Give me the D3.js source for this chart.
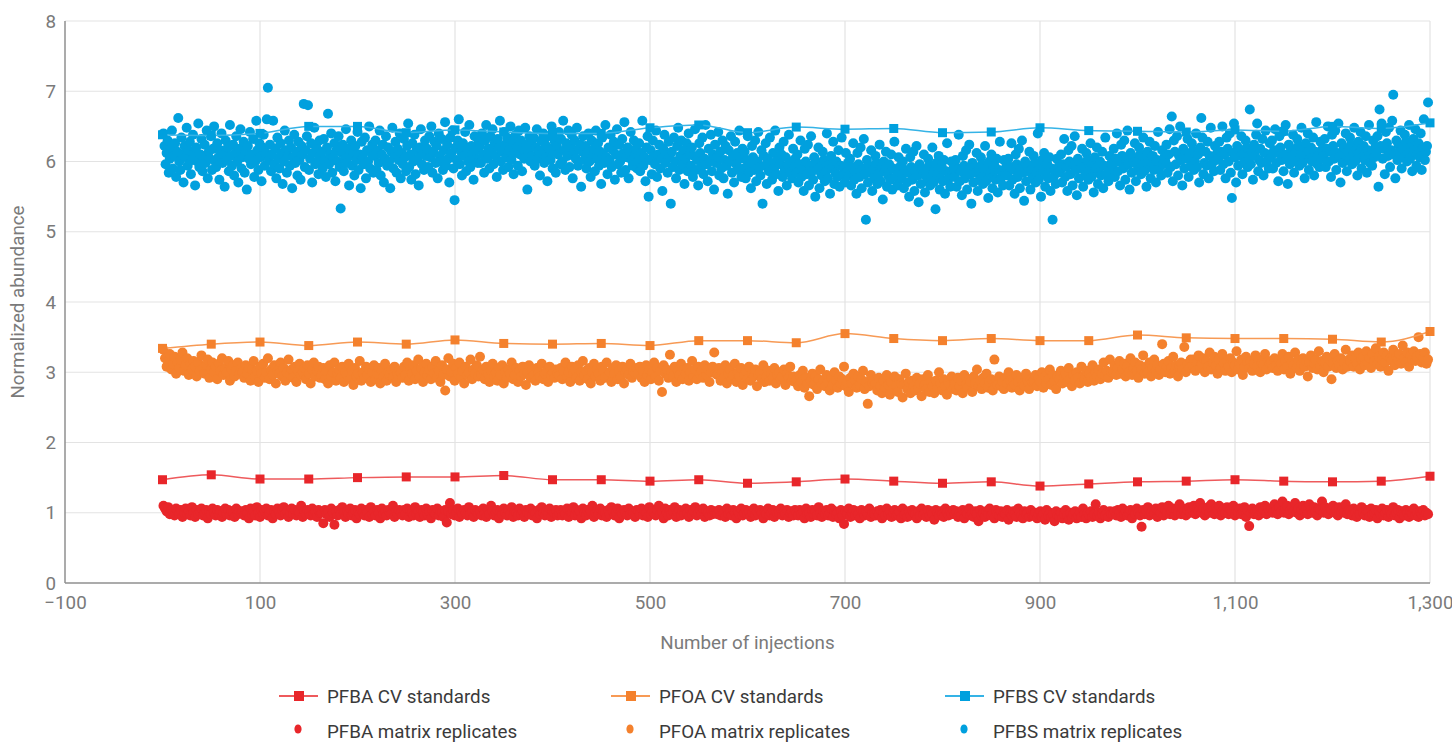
<!DOCTYPE html>
<html>
<head>
<meta charset="utf-8">
<script src="https://cdn.jsdelivr.net/npm/d3@7"></script>
<style>
  html, body { margin: 0; padding: 0; background: #fff; }
  svg { display: block; font-family: Roboto, "Open Sans", sans-serif; }
</style>
</head>
<body>
<svg id="chart" width="1452" height="742"></svg>
<script>
// ---------- DATA ----------
const xTicks = [-100, 100, 300, 500, 700, 900, 1100, 1300];
const yTicks = [0, 1, 2, 3, 4, 5, 6, 7, 8];

const cvInjections = [0,50,100,150,200,250,300,350,400,450,500,550,600,650,700,750,800,850,900,950,1000,1050,1100,1150,1200,1250,1300];
const pfbaCV = [1.47,1.54,1.48,1.48,1.50,1.51,1.51,1.53,1.47,1.47,1.45,1.47,1.42,1.44,1.48,1.45,1.42,1.44,1.38,1.41,1.44,1.45,1.47,1.45,1.44,1.45,1.52];
const pfoaCV = [3.34,3.40,3.43,3.38,3.43,3.40,3.46,3.41,3.40,3.41,3.38,3.45,3.45,3.42,3.55,3.48,3.45,3.48,3.45,3.45,3.53,3.49,3.48,3.48,3.47,3.43,3.58];
const pfbsCV = [6.38,6.37,6.40,6.50,6.50,6.41,6.45,6.42,6.40,6.40,6.48,6.52,6.41,6.49,6.46,6.47,6.41,6.42,6.48,6.44,6.43,6.42,6.45,6.43,6.50,6.47,6.55];

// matrix replicates: consecutive injections between first and last
const matrixFirstInjection = 1;
const matrixLastInjection = 1298;

const pfbsMatrix = [
6.40,6.22,5.96,6.12,6.30,5.84,6.04,6.18,6.44,5.90,6.08,6.26,5.78,6.14,6.62,6.00,5.88,6.34,6.10,5.70,6.22,6.06,6.48,5.94,6.16,6.28,5.82,6.02,6.38,6.12,5.66,6.20,6.00,6.54,5.92,6.10,6.32,5.86,6.06,6.24,5.98,6.44,5.76,6.14,6.04,6.36,5.88,6.18,6.50,6.00,
5.92,6.26,6.06,5.74,6.16,6.40,5.98,6.10,5.64,6.30,6.02,6.20,5.86,6.52,6.08,5.94,6.24,5.80,6.12,6.36,6.00,5.70,6.18,6.46,5.90,6.06,6.28,5.84,6.14,5.60,6.22,6.04,6.42,5.96,6.10,6.32,5.78,6.00,6.58,6.16,5.88,6.26,6.06,5.72,6.20,6.38,5.94,6.12,6.60,7.05,
6.02,6.24,5.86,6.10,6.58,5.96,6.18,5.76,6.34,6.04,5.90,6.26,6.12,5.68,6.00,6.44,6.16,5.84,6.08,6.30,5.94,6.20,5.62,6.06,6.38,5.98,6.14,5.80,6.28,6.02,5.74,6.22,6.10,6.82,5.92,6.16,6.36,6.80,5.88,6.04,6.26,5.70,6.12,6.48,5.96,6.20,6.00,5.82,6.30,6.08,
6.14,5.90,6.32,6.02,5.78,6.20,6.68,5.96,6.10,6.40,5.84,6.06,6.26,5.72,6.16,6.00,6.36,5.92,5.33,6.12,6.24,5.86,6.04,6.46,5.98,6.18,5.66,6.08,6.30,5.94,6.14,5.80,6.22,6.02,6.42,5.88,6.10,5.62,6.28,6.06,5.96,6.34,5.76,6.16,6.00,6.50,5.90,6.12,6.24,5.84,
6.08,6.30,5.88,6.16,5.98,6.44,5.80,6.10,6.24,5.70,6.04,6.36,5.94,6.20,6.00,5.62,6.14,6.48,5.90,6.06,6.28,5.84,6.18,6.02,6.40,5.76,6.12,5.96,6.32,6.06,5.86,6.22,6.54,5.92,6.10,5.74,6.26,6.00,6.38,5.82,6.16,6.04,5.66,6.20,6.46,5.96,6.12,5.88,6.30,6.08,
6.18,5.92,6.36,6.06,6.50,5.84,6.14,6.28,5.98,6.22,5.76,6.40,6.08,6.00,6.32,5.88,6.16,6.56,5.94,6.24,6.04,5.70,6.34,6.12,6.44,5.90,5.45,6.20,6.02,6.30,6.60,5.96,6.14,5.80,6.26,6.08,6.42,5.86,6.18,6.00,6.52,5.92,6.22,6.10,5.74,6.36,6.04,6.16,5.98,6.28,
6.22,5.98,6.40,6.10,5.84,6.30,6.52,6.04,6.18,5.90,6.36,6.14,6.46,5.96,6.26,6.08,5.78,6.32,6.20,6.58,6.00,6.14,5.88,6.42,6.24,6.06,6.34,5.92,6.16,6.50,6.02,6.28,5.82,6.12,6.38,6.20,5.94,6.44,6.10,6.30,5.86,6.18,6.04,6.48,6.24,5.60,6.14,6.36,6.00,6.26,
6.08,6.34,5.94,6.20,6.46,6.04,6.16,5.80,6.30,6.12,6.40,5.98,6.24,6.06,5.72,6.36,6.18,6.02,6.50,5.90,6.14,6.28,5.84,6.22,6.10,6.42,5.96,6.32,6.00,6.58,6.16,5.88,6.26,6.08,6.44,5.92,6.20,6.38,5.76,6.12,6.30,6.04,6.48,5.94,6.18,6.24,5.64,6.14,6.36,6.02,
6.22,5.90,6.12,6.40,6.00,5.78,6.30,6.08,6.18,5.86,6.44,6.04,6.26,5.94,6.14,5.68,6.34,6.10,5.98,6.52,6.06,5.82,6.20,6.02,6.38,5.92,6.16,6.28,5.74,6.10,6.46,5.96,6.24,6.00,5.84,6.32,6.12,6.56,5.88,6.06,6.20,5.76,6.14,6.42,6.02,5.94,6.30,6.08,6.18,5.90,
6.00,6.26,5.86,6.12,6.58,5.94,6.06,5.72,6.20,6.36,5.50,6.02,6.16,5.82,6.30,6.08,5.96,6.44,5.78,6.10,6.24,5.90,6.04,5.58,6.18,6.38,5.98,6.12,5.84,6.28,6.06,5.40,6.14,5.92,6.34,6.00,5.76,6.22,6.48,5.88,6.08,6.30,5.96,6.16,5.68,6.04,6.26,5.86,6.40,6.10,
5.94,6.20,5.78,6.08,6.46,5.88,6.02,5.66,6.26,6.12,5.92,6.34,5.82,6.04,6.52,5.96,5.72,6.18,6.00,6.38,5.86,6.10,5.60,6.24,5.98,6.06,6.42,5.80,6.14,5.90,6.30,5.76,6.02,6.22,5.94,5.54,6.16,6.00,6.36,5.84,6.08,5.70,6.28,5.96,6.12,5.88,6.44,6.04,5.78,6.18,
5.90,6.14,5.76,6.02,6.36,5.84,5.96,5.62,6.22,6.06,5.88,6.30,5.72,6.00,6.42,5.92,5.80,6.16,5.40,6.08,5.94,6.26,5.68,6.04,5.86,6.34,5.98,5.74,6.12,5.90,6.44,5.82,6.02,5.58,6.20,5.96,6.10,5.78,6.28,5.88,6.06,5.66,5.94,6.38,5.84,6.00,5.76,6.18,5.92,6.04,
5.84,6.10,5.70,5.96,6.30,5.78,5.90,5.58,6.18,6.00,5.82,6.24,5.66,5.94,6.36,5.86,5.74,6.06,5.50,5.98,5.88,6.20,5.62,5.92,5.80,6.14,6.02,5.72,5.86,6.40,5.76,5.96,5.54,6.08,5.90,6.28,5.68,5.84,6.00,5.78,6.16,5.64,5.94,6.34,5.82,5.92,5.70,6.12,5.86,5.98,
5.80,6.04,5.66,5.92,6.26,5.74,5.86,5.54,6.12,5.96,5.78,6.20,5.62,5.90,6.32,5.82,5.17,6.02,5.70,5.94,5.84,6.16,5.58,5.88,5.76,6.08,5.98,5.68,5.82,6.24,5.72,5.92,5.46,6.00,5.86,6.14,5.64,5.80,5.96,5.74,6.10,5.60,5.90,6.28,5.78,5.88,5.66,6.06,5.84,5.94,
5.76,6.00,5.62,5.88,6.18,5.70,5.84,5.50,6.06,5.92,5.74,6.14,5.58,5.86,6.22,5.80,5.42,5.96,5.68,5.90,5.82,6.10,5.56,5.84,5.72,6.04,5.94,5.66,5.78,6.20,5.70,5.88,5.32,5.98,5.82,6.08,5.60,5.76,5.92,5.72,6.02,5.54,5.86,6.26,5.74,5.84,5.64,6.00,5.80,5.90,
5.78,6.02,5.64,5.90,6.38,5.72,5.86,5.52,6.08,5.94,5.76,6.16,5.60,5.88,6.24,5.82,5.40,5.98,5.70,5.92,5.84,6.12,5.58,5.86,5.74,6.06,5.96,5.68,5.80,6.22,5.72,5.90,5.48,6.00,5.84,6.10,5.62,5.78,5.94,5.74,6.04,5.56,5.88,6.28,5.76,5.86,5.66,6.02,5.82,5.92,
5.80,6.04,5.66,5.92,6.26,5.74,5.88,5.54,6.10,5.96,5.78,6.18,5.62,5.90,6.30,5.84,5.44,6.00,5.72,5.94,5.86,6.14,5.60,5.88,5.76,6.08,5.98,5.70,5.82,6.40,5.74,5.92,5.50,6.02,5.86,6.12,5.64,5.80,5.96,5.76,6.06,5.58,5.90,5.17,5.78,5.88,5.68,6.04,5.84,5.94,
5.86,6.10,5.70,5.96,6.32,5.78,5.92,5.58,6.16,6.00,5.82,6.22,5.66,5.94,6.36,5.88,5.52,6.04,5.76,5.98,5.90,6.18,5.64,5.92,5.80,6.12,6.02,5.74,5.86,6.26,5.78,5.96,5.56,6.06,5.90,6.20,5.68,5.84,6.00,5.80,6.14,5.62,5.94,6.34,5.82,5.92,5.72,6.08,5.88,5.98,
5.94,6.18,5.78,6.04,6.40,5.86,6.00,5.66,6.24,6.08,5.90,6.30,5.74,6.02,6.44,5.96,5.60,6.12,5.84,6.06,5.98,6.26,5.72,6.00,5.88,6.20,6.10,5.82,5.94,6.34,5.86,6.04,5.64,6.14,5.98,6.28,5.76,5.92,6.08,5.88,6.22,5.70,6.02,6.42,5.90,6.00,5.80,6.16,5.96,6.06,
6.00,6.24,5.84,6.10,6.46,5.92,6.64,5.72,6.30,6.14,5.96,6.36,5.80,6.08,6.50,6.02,5.66,6.18,5.90,6.12,6.04,6.32,5.78,6.06,5.94,6.26,6.16,5.88,6.00,6.40,5.92,6.10,5.70,6.20,6.62,6.34,5.82,5.98,6.14,5.94,6.28,5.76,6.08,6.48,5.96,6.06,5.86,6.22,6.02,6.12,
6.04,6.28,5.88,6.14,6.50,5.96,6.10,5.76,6.34,6.18,6.00,6.40,5.84,5.48,6.12,6.54,6.06,5.70,6.22,5.94,6.16,6.08,6.36,5.82,6.10,5.98,6.30,6.20,5.92,6.04,6.74,5.96,6.14,5.74,6.24,6.08,6.38,6.54,5.86,6.02,6.18,5.98,6.32,5.80,6.12,6.44,6.00,6.10,5.90,6.26,
6.06,6.30,5.90,6.16,6.46,5.98,6.12,5.72,6.36,6.20,6.02,6.42,5.86,6.10,6.52,6.04,5.68,6.24,5.96,6.18,6.08,6.38,5.84,6.12,6.00,6.32,6.22,5.94,6.06,6.48,5.98,6.16,5.76,6.26,6.10,6.40,5.88,6.04,6.20,6.00,6.34,5.80,6.14,6.56,5.96,6.08,5.92,6.28,6.04,6.18,
6.08,6.32,5.92,6.18,6.50,6.00,6.14,5.78,6.38,6.22,6.04,6.44,5.88,6.12,6.54,6.06,5.70,6.26,5.98,6.20,6.10,6.40,5.86,6.14,6.02,6.34,6.24,5.96,6.08,6.48,6.00,6.18,5.80,6.28,6.12,6.42,5.90,6.06,6.22,6.02,6.36,5.84,6.16,6.52,5.98,6.10,5.94,6.30,6.06,6.20,
6.12,6.36,5.64,6.74,6.22,6.54,6.04,6.18,5.82,6.42,6.26,6.08,6.48,5.92,6.16,6.58,6.95,6.10,5.76,6.30,6.02,6.24,6.14,6.44,5.90,6.18,6.06,6.38,6.28,6.00,6.12,6.52,6.04,6.22,5.86,6.32,6.16,6.46,5.94,6.10,6.26,6.06,6.40,5.88,6.20,6.60,6.02,6.14,6.22,6.84
];

const pfoaMatrix = [
3.32,3.20,3.08,3.16,3.26,3.04,3.12,3.22,2.98,3.14,3.06,3.18,3.28,3.02,3.10,3.20,2.96,3.12,3.04,3.16,3.08,2.94,3.14,3.02,3.24,3.06,2.98,3.10,3.18,2.92,3.04,3.14,3.00,3.08,2.90,3.12,3.02,3.20,2.96,3.06,3.00,3.16,2.88,3.04,3.10,2.94,3.02,3.14,2.98,3.06,
3.00,2.92,3.10,2.98,3.06,2.88,3.04,3.16,2.94,3.02,2.86,3.08,2.98,3.12,2.92,3.00,3.20,2.90,3.04,2.96,3.10,2.84,3.02,2.98,3.14,2.94,3.06,2.88,3.00,3.18,2.96,3.04,2.92,3.08,2.86,3.02,3.12,2.96,3.00,3.06,2.90,3.10,2.98,2.84,3.04,3.14,2.94,3.02,3.08,2.92,
2.96,3.06,2.90,3.02,2.84,3.10,2.94,3.00,3.14,2.88,2.98,3.04,2.92,3.08,2.86,3.00,2.96,3.12,2.90,3.02,2.82,3.06,2.94,2.98,3.16,2.88,3.00,2.92,3.08,2.96,3.04,2.86,3.00,3.10,2.90,2.98,3.06,2.84,3.02,2.94,3.12,2.88,3.00,2.96,3.04,2.92,3.08,2.86,2.98,3.02,
3.00,2.92,3.08,2.96,3.14,2.88,3.04,2.98,3.10,2.90,3.02,3.18,2.94,3.06,2.86,3.00,3.12,2.96,3.04,2.90,3.08,2.98,3.16,2.92,3.02,2.86,3.10,2.96,2.74,3.04,3.20,2.94,3.00,3.12,2.88,3.06,2.98,3.14,2.92,3.02,2.84,3.08,2.96,3.00,3.18,2.90,3.04,2.98,3.10,2.94,
3.22,2.96,3.04,2.90,3.08,2.98,2.86,3.02,3.12,2.94,3.00,2.88,3.06,2.96,3.10,2.84,3.00,2.92,3.04,2.98,3.14,2.90,2.96,3.06,2.86,3.02,2.94,3.08,2.98,2.82,3.00,3.10,2.92,3.04,2.96,2.88,3.06,3.00,2.94,3.12,2.90,2.98,3.02,2.86,3.08,2.96,3.00,2.92,3.04,2.98,
2.96,3.06,2.90,3.02,3.14,2.94,3.00,2.86,3.08,2.98,3.04,2.92,3.10,2.88,3.00,3.16,2.96,3.02,2.90,3.06,2.84,3.00,3.12,2.94,3.04,2.98,2.88,3.08,3.02,2.92,3.14,2.96,3.00,2.86,3.06,2.98,3.10,2.90,3.02,2.94,3.08,2.84,3.00,3.04,2.96,3.12,2.92,3.02,2.98,3.06,
2.98,3.08,2.92,3.02,2.86,3.10,2.96,3.04,2.90,3.00,3.14,2.94,3.06,2.88,3.02,2.72,3.10,2.98,3.04,2.92,3.25,3.00,2.94,3.08,2.86,3.02,2.96,3.12,2.90,3.04,2.98,3.06,2.88,3.00,3.16,2.94,3.04,2.90,3.08,2.98,3.02,2.92,3.10,2.96,3.04,2.86,3.00,3.08,3.28,2.98,
2.96,3.06,2.88,3.00,2.92,3.10,2.84,2.98,3.04,2.90,2.96,3.12,2.86,3.00,2.94,3.06,2.82,2.96,3.02,2.90,3.08,2.88,2.98,2.94,3.04,2.80,2.96,3.00,2.90,3.10,2.86,2.94,3.02,2.88,2.98,2.92,3.06,2.84,2.96,3.00,2.90,2.94,3.04,2.82,2.98,2.92,3.08,2.88,2.94,2.86,
2.90,2.80,2.96,2.86,3.02,2.78,2.92,2.84,2.66,2.88,2.98,2.82,2.94,2.76,2.90,3.04,2.84,2.88,2.80,2.96,2.86,2.74,2.92,2.82,3.00,2.88,2.78,2.94,2.84,2.90,3.08,2.80,2.86,2.72,2.92,2.84,2.98,2.88,2.78,2.94,2.82,2.90,3.02,2.76,2.86,2.55,2.80,2.96,2.84,2.88,
2.84,2.74,2.92,2.80,2.70,2.88,2.78,2.96,2.82,2.68,2.86,2.76,2.94,2.80,2.72,2.90,2.84,2.64,2.82,2.98,2.76,2.86,2.70,2.88,2.80,2.74,2.92,2.78,2.84,2.66,2.90,2.82,2.76,2.96,2.72,2.86,2.80,2.70,2.88,2.78,3.00,2.84,2.74,2.90,2.80,2.68,2.86,2.82,2.94,2.76,
2.84,2.74,2.92,2.80,2.88,2.70,2.96,2.82,2.78,2.90,2.86,2.72,2.94,2.84,3.04,2.80,2.88,2.76,2.92,2.84,2.98,2.78,2.86,2.90,2.74,3.18,2.88,2.82,2.94,2.80,2.86,2.76,2.92,2.84,3.00,2.88,2.78,2.90,2.82,2.96,2.86,2.74,2.92,2.84,2.80,2.98,2.88,2.76,2.90,2.86,
2.88,2.96,2.80,2.92,2.86,3.00,2.78,2.94,2.84,2.90,3.04,2.82,2.96,2.88,2.76,2.94,2.90,3.02,2.84,2.92,2.98,2.86,3.06,2.90,2.80,2.96,2.88,3.00,2.92,2.84,3.08,2.94,2.90,3.02,2.86,2.98,2.92,3.10,2.88,3.00,2.94,3.04,2.90,2.98,3.14,2.96,3.02,2.92,3.18,3.00,
3.02,3.10,2.96,3.06,3.16,2.98,3.04,3.12,2.94,3.08,3.00,3.20,2.96,3.06,3.14,3.02,2.92,3.10,3.04,3.24,2.98,3.08,3.00,3.14,2.94,3.06,3.18,3.02,3.10,2.96,3.04,3.40,3.12,3.00,3.08,3.16,2.98,3.06,3.22,3.02,3.10,2.94,3.08,3.14,3.04,3.36,3.00,3.12,3.06,3.18,
3.10,3.18,3.02,3.14,3.24,3.06,3.12,3.20,3.00,3.16,3.08,3.28,3.04,3.14,3.22,3.10,2.98,3.18,3.06,3.26,3.12,3.02,3.16,3.08,3.20,3.00,3.14,3.10,3.30,3.04,3.12,3.18,2.96,3.08,3.22,3.14,3.06,3.16,3.02,3.12,3.24,3.08,3.18,3.00,3.14,3.10,3.26,3.04,3.16,3.12,
3.14,3.06,3.20,3.10,3.02,3.18,3.12,3.26,3.04,3.16,3.08,3.22,2.98,3.14,3.10,3.28,3.06,3.18,3.02,3.12,3.20,3.08,3.16,2.94,3.14,3.24,3.06,3.12,3.18,3.04,3.30,3.10,3.16,3.00,3.14,3.22,3.08,3.18,2.90,3.12,3.26,3.06,3.16,3.10,3.20,3.04,3.14,3.32,3.08,3.18,
3.16,3.24,3.08,3.20,3.12,3.28,3.04,3.18,3.22,3.10,3.30,3.14,3.20,3.06,3.26,3.16,3.34,3.12,3.22,3.08,3.18,3.28,3.14,3.24,3.02,3.20,3.16,3.32,3.10,3.22,3.18,3.26,3.12,3.38,3.20,3.14,3.28,3.08,3.24,3.18,3.30,3.16,3.22,3.50,3.26,3.14,3.20,3.28,3.12,3.18
];

const pfbaMatrix = [
1.10,1.06,1.02,1.08,0.98,1.04,1.00,0.96,1.06,1.02,0.98,1.04,0.94,1.00,1.06,0.98,1.02,0.96,1.08,1.00,0.94,1.04,0.98,1.02,1.06,0.96,1.00,1.04,0.92,1.02,0.98,1.06,1.00,0.96,1.04,0.98,1.02,0.94,1.00,1.06,0.98,1.04,0.96,1.02,1.00,0.94,1.06,0.98,1.02,1.00,
1.02,0.96,1.04,1.00,0.92,1.06,0.98,1.02,0.96,1.08,1.00,0.94,1.04,0.98,1.02,1.06,0.96,1.00,1.04,0.92,1.02,0.98,1.06,1.00,0.96,1.04,1.08,0.98,1.02,0.94,1.00,1.06,0.98,1.04,0.96,1.02,1.00,1.10,0.94,1.02,0.98,1.04,1.00,0.96,1.06,0.98,1.02,0.94,1.04,1.00,
1.00,0.85,1.04,0.98,1.02,0.94,1.06,1.00,0.83,1.02,0.96,1.04,0.98,1.08,1.00,0.94,1.02,0.98,1.06,0.96,1.00,1.04,0.92,1.02,0.98,1.06,1.00,0.96,1.04,1.00,0.94,1.08,0.98,1.02,0.96,1.04,1.00,0.92,1.06,0.98,1.02,0.96,1.04,1.00,0.98,1.10,0.94,1.02,0.98,1.04,
1.00,0.96,1.04,0.98,1.06,0.94,1.02,1.00,0.96,1.08,0.98,1.02,0.94,1.04,1.00,0.96,1.06,0.98,1.02,0.92,1.04,1.00,0.98,1.06,0.96,1.02,1.00,0.94,1.04,0.86,1.02,1.14,0.98,1.04,0.96,1.00,1.06,0.94,1.02,0.98,1.04,1.00,0.96,1.08,0.98,1.02,0.94,1.04,1.00,0.98,
1.02,0.96,1.06,1.00,0.94,1.04,0.98,1.10,1.02,0.96,1.00,1.04,0.92,1.02,0.98,1.06,1.00,0.96,1.04,0.98,1.08,0.94,1.02,1.00,0.96,1.06,0.98,1.02,0.94,1.04,1.00,0.98,1.06,0.96,1.02,1.00,0.92,1.04,0.98,1.08,1.00,0.96,1.02,0.98,1.06,0.94,1.02,1.00,1.04,0.96,
1.00,1.04,0.96,1.02,0.98,1.06,0.94,1.02,1.00,1.08,0.96,1.04,0.98,1.02,0.92,1.06,1.00,0.96,1.04,0.98,1.02,1.10,0.94,1.00,1.04,0.98,1.06,0.96,1.02,1.00,0.94,1.04,0.98,1.08,1.02,0.96,1.00,1.06,0.92,1.02,0.98,1.04,1.00,0.96,1.06,0.98,1.02,1.00,0.94,1.04,
1.02,0.98,1.06,0.96,1.04,1.00,0.94,1.08,0.98,1.02,1.00,0.96,1.04,1.10,0.98,1.02,0.92,1.06,1.00,0.96,1.04,0.98,1.02,1.08,0.94,1.00,1.04,0.96,1.02,0.98,1.06,1.00,0.94,1.04,0.98,1.02,1.08,0.96,1.00,1.04,0.98,1.06,0.94,1.02,1.00,0.96,1.04,0.98,1.02,1.00,
0.98,1.04,0.96,1.02,1.00,0.94,1.06,0.98,1.02,0.96,1.04,1.00,0.92,1.02,0.98,1.06,0.96,1.00,1.04,0.98,1.02,0.94,1.00,1.06,0.96,1.02,0.98,1.04,1.00,0.92,1.02,0.98,1.06,0.96,1.00,1.04,0.94,1.02,0.98,1.00,1.06,0.96,1.02,0.98,1.04,0.94,1.00,1.02,0.96,1.04,
1.00,0.96,1.04,0.98,1.02,0.92,1.06,0.98,1.00,0.94,1.04,0.98,1.02,0.96,1.08,1.00,0.94,1.02,0.98,1.04,0.96,1.00,1.06,0.94,1.02,0.98,1.00,0.92,1.04,0.96,0.84,1.02,0.98,1.06,0.94,1.00,1.04,0.96,1.02,0.98,0.92,1.04,1.00,0.96,1.02,0.98,1.06,0.94,1.00,0.98,
0.96,1.02,0.98,1.04,0.92,1.00,0.96,1.06,0.98,1.02,0.94,1.00,1.04,0.96,0.98,1.02,0.92,1.06,0.98,1.00,0.94,1.02,0.96,1.04,1.00,0.98,0.92,1.02,0.96,1.06,0.98,1.00,0.94,1.04,0.96,1.02,0.98,0.90,1.04,1.00,0.96,1.02,0.98,0.94,1.06,1.00,0.96,1.02,0.98,1.04,
0.98,1.02,0.94,1.00,0.96,1.04,0.92,1.02,0.98,1.06,0.96,1.00,0.94,1.02,0.98,0.88,1.04,0.96,1.00,0.94,1.02,0.98,1.06,0.96,1.00,0.92,1.04,0.98,0.96,1.02,0.94,1.00,0.98,1.04,0.90,1.00,0.96,1.02,0.98,0.94,1.06,1.00,0.96,0.92,1.02,0.98,1.00,0.94,1.04,0.96,
0.96,1.00,0.92,0.98,1.02,0.94,0.98,0.90,1.04,0.96,1.00,0.94,0.98,0.88,1.02,0.96,0.94,1.00,0.92,0.98,1.04,0.96,0.90,1.00,0.94,0.98,1.02,0.92,0.96,1.00,0.94,1.06,0.98,0.92,1.00,0.96,1.02,0.94,0.98,1.12,0.96,1.00,0.92,0.98,1.04,0.96,1.00,0.94,1.02,0.98,
0.98,1.02,0.96,1.04,1.00,0.94,1.06,0.98,1.02,0.96,1.00,1.04,0.92,1.02,0.98,1.06,1.00,0.96,0.80,1.04,0.98,1.02,1.08,0.96,1.00,1.04,0.98,1.06,0.94,1.02,1.00,1.08,0.96,1.04,1.00,1.10,0.98,1.02,1.06,0.96,1.04,1.00,1.12,0.98,1.06,1.02,0.96,1.04,1.08,1.00,
1.04,1.10,0.98,1.06,1.02,1.14,1.00,1.06,0.96,1.04,1.08,1.00,1.12,1.02,0.98,1.06,1.04,1.10,0.96,1.02,1.06,1.00,1.08,0.98,1.04,1.02,1.10,0.96,1.04,1.00,1.06,0.98,1.02,1.08,0.94,1.04,0.81,1.00,1.06,0.98,1.02,1.04,0.96,1.08,1.00,1.04,1.10,0.98,1.06,1.02,
1.06,1.00,1.12,1.04,0.98,1.08,1.02,1.16,1.00,1.06,1.10,0.98,1.04,1.08,1.02,1.14,1.00,1.06,0.96,1.04,1.10,1.02,1.06,0.98,1.12,1.04,1.00,1.08,1.02,0.96,1.06,1.04,1.16,1.00,1.08,1.02,0.98,1.06,1.04,1.10,1.00,1.04,0.96,1.08,1.02,1.06,1.00,1.12,0.98,1.04,
1.02,0.96,1.06,1.00,0.94,1.04,0.98,1.08,1.00,0.96,1.04,1.02,0.94,1.06,0.98,1.00,1.04,0.92,1.02,0.98,1.06,0.96,1.00,1.04,0.94,1.02,0.98,1.08,0.96,1.00,1.04,0.92,1.02,0.98,0.96,1.04,1.00,0.94,1.02,0.98,1.06,0.96,1.00,0.94,1.02,0.98,1.04,0.96,1.00,0.98
];

const seriesNames = ["PFBA", "PFOA", "PFBS"];
const seriesColors = ["#e8262a", "#f4812d", "#00a0de"];
const lineColors = ["#ee5a5c", "#f79a55", "#35b3e6"];

// ---------- LAYOUT ----------
const plot = { left: 65, right: 1430, top: 21, bottom: 583 };
const fontSize = "18.8px";

const svg = d3.select("#chart");
const x = d3.scaleLinear().domain([-100, 1300]).range([plot.left, plot.right]);
const y = d3.scaleLinear().domain([0, 8]).range([plot.bottom, plot.top]);

const gridColor = "#e3e3e3";
const axisColor = "#8f8f8f";
const tickColor = "#7a7a7a";

// gridlines
svg.append("g").selectAll("line").data(yTicks.filter(d => d > 0)).join("line")
  .attr("x1", plot.left).attr("x2", plot.right)
  .attr("y1", d => y(d)).attr("y2", d => y(d))
  .attr("stroke", gridColor).attr("stroke-width", 1.2);
svg.append("g").selectAll("line").data(xTicks.filter(d => d > -100)).join("line")
  .attr("x1", d => x(d)).attr("x2", d => x(d))
  .attr("y1", plot.top).attr("y2", plot.bottom)
  .attr("stroke", gridColor).attr("stroke-width", 1.2);

// axes
const xAxis = d3.axisBottom(x).tickValues(xTicks).tickFormat(d3.format(",")).tickSize(0).tickPadding(13);
const yAxis = d3.axisLeft(y).tickValues(yTicks).tickFormat(d3.format("d")).tickSize(0).tickPadding(9);

const gx = svg.append("g").attr("transform", `translate(0,${plot.bottom})`).call(xAxis);
const gy = svg.append("g").attr("transform", `translate(${plot.left},0)`).call(yAxis);
[gx, gy].forEach(g => {
  g.select(".domain").attr("stroke", axisColor).attr("stroke-width", 1.5);
  g.selectAll("text").attr("fill", tickColor).style("font-size", fontSize).style("font-family", "Roboto, sans-serif");
});
gy.select(".domain").attr("d", `M0,${plot.top}V${plot.bottom}`);
gx.select(".domain").attr("d", `M${plot.left},0H${plot.right}`);

// axis titles
svg.append("text").attr("x", (plot.left + plot.right) / 2).attr("y", 649)
  .attr("text-anchor", "middle").attr("fill", tickColor).style("font-size", fontSize)
  .text("Number of injections");
svg.append("text").attr("transform", `translate(24,${(plot.top + plot.bottom) / 2}) rotate(-90)`)
  .attr("text-anchor", "middle").attr("fill", tickColor).style("font-size", fontSize)
  .text("Normalized abundance");

// ---------- MARKS ----------
const matrixSets = [pfbaMatrix, pfoaMatrix, pfbsMatrix];
const cvSets = [pfbaCV, pfoaCV, pfbsCV];

const marks = svg.append("g");
matrixSets.forEach((vals, s) => {
  const n = vals.length;
  const pts = vals.map((v, i) => ({
    inj: matrixFirstInjection + i * (matrixLastInjection - matrixFirstInjection) / (n - 1),
    v
  }));
  marks.append("g").selectAll("circle").data(pts).join("circle")
    .attr("cx", d => x(d.inj)).attr("cy", d => y(d.v)).attr("r", 5)
    .attr("fill", seriesColors[s]);
});

const line = d3.line().x(d => x(d.inj)).y(d => y(d.v)).curve(d3.curveMonotoneX);
cvSets.forEach((vals, s) => {
  const pts = vals.map((v, i) => ({ inj: cvInjections[i], v }));
  const g = marks.append("g");
  g.append("path").datum(pts).attr("d", line)
    .attr("fill", "none").attr("stroke", lineColors[s]).attr("stroke-width", 1.5);
  const sz = 9;
  g.selectAll("rect").data(pts).join("rect")
    .attr("x", d => x(d.inj) - sz / 2).attr("y", d => y(d.v) - sz / 2)
    .attr("width", sz).attr("height", sz).attr("fill", seriesColors[s]);
});

// ---------- LEGEND ----------
const legendTextX = [327, 659, 993];
const legendRowY = [696, 731];
const legend = svg.append("g").style("font-size", fontSize).attr("fill", "#3a3a3a");
seriesNames.forEach((name, s) => {
  const tx = legendTextX[s];
  legend.append("line").attr("x1", tx - 48).attr("x2", tx - 9)
    .attr("y1", legendRowY[0]).attr("y2", legendRowY[0])
    .attr("stroke", lineColors[s]).attr("stroke-width", 2);
  legend.append("rect").attr("x", tx - 33).attr("y", legendRowY[0] - 5)
    .attr("width", 10).attr("height", 10).attr("fill", seriesColors[s]);
  legend.append("text").attr("x", tx).attr("y", legendRowY[0]).attr("dy", "0.35em")
    .text(name + " CV standards");
  legend.append("ellipse").attr("cx", tx - 29).attr("cy", legendRowY[1] - 2)
    .attr("rx", 3.6).attr("ry", 4.6).attr("fill", seriesColors[s]);
  legend.append("text").attr("x", tx).attr("y", legendRowY[1]).attr("dy", "0.35em")
    .text(name + " matrix replicates");
});
</script>
</body>
</html>
